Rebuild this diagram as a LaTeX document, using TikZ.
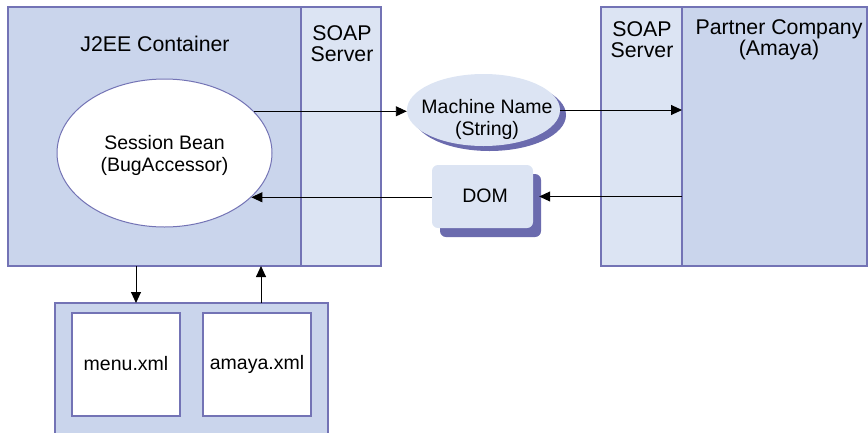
\documentclass[tikz,border=0pt]{standalone}
\usepackage{fontspec}
\setmainfont{Liberation Sans}
\usetikzlibrary{shapes.geometric,arrows.meta,shadows}
\definecolor{contc}{HTML}{CAD5EC}
\definecolor{soapc}{HTML}{DCE4F3}
\definecolor{edgec}{HTML}{7373B5}
\definecolor{shadc}{HTML}{6B6BAE}
\begin{document}
\begin{tikzpicture}[x=1pt,y=-1pt,
  box/.style={draw=edgec,line width=1.2pt,anchor=north west,inner sep=0pt,outer sep=0pt},
  lbl/.style={font=\fontsize{19.5}{22}\selectfont,align=center,inner sep=0pt},
  head/.style={font=\fontsize{21.3}{21}\selectfont,align=center,inner sep=0pt},
  arr/.style={-{Triangle[length=11pt,width=10pt]},line width=0.9pt,black}]
\clip (0,0) rectangle (868,432);
\useasboundingbox (0,0) rectangle (868,432);
% containers
\node[box,fill=contc,minimum width=293pt,minimum height=259pt] (j2ee) at (8,7) {};
\node[box,fill=soapc,minimum width=80pt,minimum height=259pt] (soapL) at (301,7) {};
\node[box,fill=soapc,minimum width=81pt,minimum height=259pt] (soapR) at (601,7) {};
\node[box,fill=contc,minimum width=185pt,minimum height=259pt] (partner) at (682,7) {};
\node[box,fill=contc,minimum width=273pt,minimum height=150pt] (store) at (55,303) {};
\node[box,fill=white,minimum width=108pt,minimum height=103pt] (menu) at (72,313) {};
\node[box,fill=white,minimum width=108pt,minimum height=103pt] (amaya) at (203,313) {};
% labels
\node[head] (j2eet) at (155,44) {J2EE Container};
\node[head] (soapLt) at (342,44) {SOAP\\Server};
\node[head] (soapRt) at (642,40) {SOAP\\Server};
\node[head] (partnert) at (779,40) {Partner Company\\(Amaya)};
\node[lbl] (menut) at (126,364) {menu.xml};
\node[lbl] (amayat) at (257,364) {amaya.xml};
% session bean
\node[ellipse,draw=edgec,line width=1pt,fill=white,minimum width=215pt,minimum height=148pt,inner sep=0pt] (sb) at (164.5,153) {};
\node[lbl] (sbt) at (164.5,155) {Session Bean\\(BugAccessor)};
% machine name
\node[ellipse,fill=soapc,minimum width=153pt,minimum height=72pt,inner sep=0pt,
  drop shadow={shadow xshift=6pt,shadow yshift=-5pt,opacity=1,fill=shadc}] (mn) at (483.5,110) {};
\node[lbl] (mnt) at (487,119) {Machine Name\\(String)};
% DOM
\node[rectangle,rounded corners=6pt,fill=soapc,minimum width=101pt,minimum height=63pt,inner sep=0pt,
  drop shadow={shadow xshift=8pt,shadow yshift=-9pt,opacity=1,fill=shadc}] (dom) at (482.5,196.5) {};
\node[lbl] (domt) at (485,196) {DOM};
% connectors
\draw[arr] (sb.25) -- (sb.25 -| mn.west);
\draw[arr] (mn.east) -- (mn.east -| partner.west);
\draw[arr] (dom.east -| partner.west) -- ([xshift=6pt]dom.east);
\draw[arr] (sb.-27 -| dom.west) -- (sb.-27);
\draw[arr] ([xshift=128pt]j2ee.south west) -- ([xshift=81pt]store.north west);
\draw[arr] ([xshift=206pt]store.north west) -- ([xshift=253pt]j2ee.south west);
\end{tikzpicture}
\end{document}
